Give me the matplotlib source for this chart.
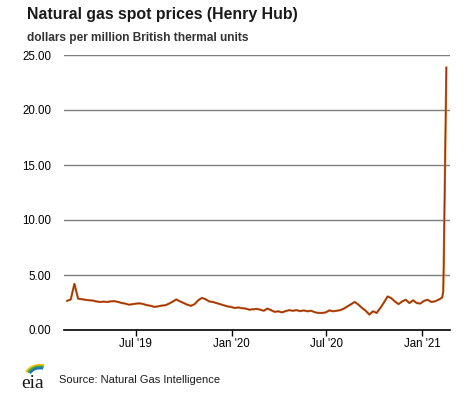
import pandas as pd
import matplotlib.pyplot as plt
from matplotlib.patches import Arc

plt.rcParams['font.family'] = ['Liberation Sans', 'DejaVu Sans']

weekly_start = '2019-02-19'
weekly_end = '2021-02-09'
weekly_prices = [
    2.65, 2.78,
    4.20, 2.85, 2.80, 2.75,
    2.70, 2.68, 2.60, 2.55, 2.58,
    2.55, 2.60, 2.62, 2.55,
    2.45, 2.40, 2.30, 2.35,
    2.40, 2.42, 2.35, 2.25, 2.20,
    2.10, 2.15, 2.22, 2.25,
    2.40, 2.58, 2.78, 2.60,
    2.45, 2.30, 2.20, 2.35, 2.70,
    2.92, 2.80, 2.60, 2.55,
    2.45, 2.35, 2.25, 2.15, 2.10,
    2.00, 2.05, 1.98, 1.95,
    1.85, 1.88, 1.92, 1.85,
    1.75, 1.95, 1.80, 1.65, 1.70,
    1.60, 1.72, 1.80, 1.75,
    1.80, 1.72, 1.78, 1.70,
    1.75, 1.62, 1.55, 1.55, 1.60,
    1.78, 1.70, 1.75, 1.80,
    1.95, 2.15, 2.35, 2.55,
    2.30, 2.00, 1.75, 1.40, 1.70,
    1.55, 2.00, 2.50, 3.05,
    2.90, 2.60, 2.35, 2.60,
    2.75, 2.45, 2.70, 2.45, 2.40,
    2.65, 2.75, 2.55, 2.60,
    2.75, 2.95,
]
spike_dates = ['2021-02-11', '2021-02-12', '2021-02-17']
spike_prices = [3.50, 6.10, 23.86]

dates = list(pd.date_range(weekly_start, weekly_end, freq='7D')) + list(pd.to_datetime(spike_dates))
prices = weekly_prices + spike_prices

tick_dates = pd.to_datetime(['2019-07-01', '2020-01-01', '2020-07-01', '2021-01-01'])
tick_labels = ["Jul '19", "Jan '20", "Jul '20", "Jan '21"]
y_ticks = [0, 5, 10, 15, 20, 25]

fig = plt.figure(figsize=(4.77, 3.93), dpi=100)
ax = fig.add_axes([64 / 477, 63 / 393, 386 / 477, 275 / 393])

for y in y_ticks[1:]:
    ax.axhline(y, color='#7f7f7f', lw=1, zorder=1)

ax.plot(dates, prices, color='#c9742c', lw=1.6, zorder=3)
ax.plot(dates, prices, color='#a3300a', lw=0.9, zorder=4)

ax.set_ylim(0, 25)
ax.set_xlim(pd.Timestamp('2019-02-13'), pd.Timestamp('2021-02-24'))
ax.set_yticks(y_ticks)
ax.set_yticklabels([f'{v:.2f}' for v in y_ticks])
ax.set_xticks(tick_dates)
ax.set_xticklabels(tick_labels)

for side in ['top', 'right', 'left']:
    ax.spines[side].set_visible(False)
ax.spines['bottom'].set_color('black')
ax.spines['bottom'].set_linewidth(1.2)
ax.tick_params(axis='y', length=0, pad=9, labelsize=8.3, labelcolor='black')
ax.tick_params(axis='x', length=4, width=1, color='black', pad=2, labelsize=8.3, labelcolor='black')

fig.text(27 / 477, 1 - 15 / 393, 'Natural gas spot prices (Henry Hub)', fontsize=11.4,
         fontweight='bold', color='#1a1a1a', va='center', ha='left')
fig.text(27 / 477, 1 - 38 / 393, 'dollars per million British thermal units', fontsize=8.6,
         fontweight='bold', color='#333333', va='center', ha='left')
fig.text(59 / 477, 1 - 380 / 393, 'Source: Natural Gas Intelligence', fontsize=8,
         color='#1a1a1a', va='center', ha='left')

# eia logo
fig.text(33 / 477, 1 - 383 / 393, 'eia', fontsize=14, family='Liberation Serif',
         color='#1a1a1a', va='center', ha='center')
logo_ax = fig.add_axes([18 / 477, 1 - 385 / 393, 34 / 477, 24 / 393])
logo_ax.set_xlim(0, 34)
logo_ax.set_ylim(0, 24)
logo_ax.axis('off')
for r, color in [(15, '#f2c200'), (13, '#3aa64a'), (11, '#1e6fb8')]:
    logo_ax.add_patch(Arc((22, 8), 2 * r, 2 * r * 0.8, theta1=70, theta2=160, color=color, lw=1.6))

fig.savefig('out.png', dpi=100, facecolor='white')
